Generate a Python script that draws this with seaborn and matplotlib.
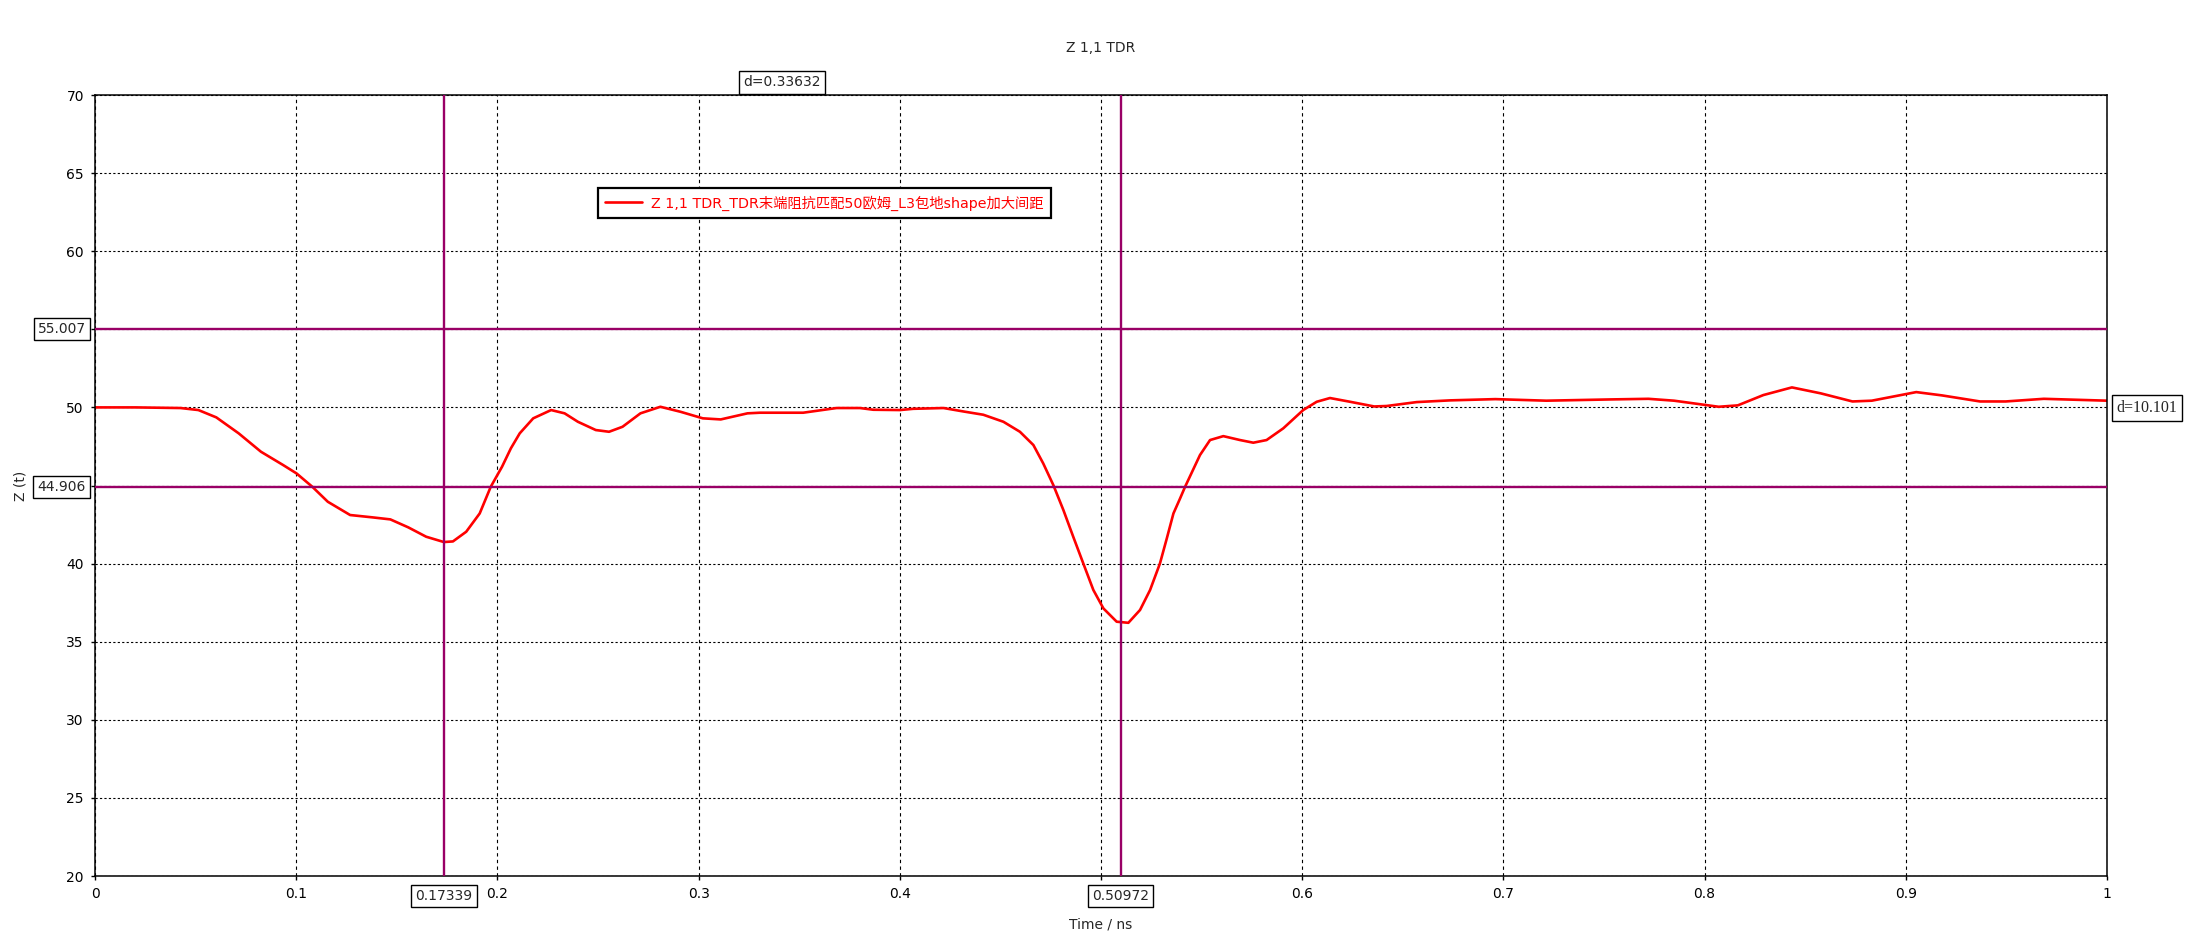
import matplotlib
matplotlib.use("Agg")
import matplotlib.pyplot as plt
import seaborn as sns
import pandas as pd

# ---------------- data ----------------
time_ns = [0.000, 0.020, 0.0425, 0.0514, 0.0603, 0.0714, 0.0825, 0.0935, 0.1002, 0.108,
           0.1157, 0.1268, 0.1379, 0.1468, 0.1557, 0.1646, 0.1734, 0.1779, 0.1845, 0.1912,
           0.1967, 0.2023, 0.2067, 0.2111, 0.2178, 0.2267, 0.2334, 0.240, 0.2489, 0.2555,
           0.2622, 0.2711, 0.281, 0.291, 0.3021, 0.311, 0.3243, 0.3305, 0.352, 0.3636,
           0.3686, 0.3802, 0.3868, 0.4001, 0.4067, 0.4217, 0.4316, 0.4415, 0.4515, 0.4597,
           0.4664, 0.4713, 0.4763, 0.4813, 0.4862, 0.4912, 0.4962, 0.5012, 0.5078, 0.5136,
           0.5194, 0.5244, 0.5293, 0.5327, 0.536, 0.5393, 0.5418, 0.5492, 0.5542, 0.5608,
           0.5691, 0.5757, 0.5823, 0.5906, 0.6005, 0.6072, 0.6138, 0.6238, 0.6358, 0.6420,
           0.6569, 0.6735, 0.6960, 0.7213, 0.7531, 0.7721, 0.7848, 0.8070, 0.8165, 0.8292,
           0.8434, 0.8577, 0.8735, 0.8831, 0.9052, 0.9179, 0.9369, 0.9496, 0.9686, 1.000]
z_ohm = [50.00, 50.00, 49.96, 49.83, 49.36, 48.34, 47.16, 46.31, 45.77, 44.92,
         43.96, 43.11, 42.96, 42.83, 42.32, 41.72, 41.38, 41.42, 42.04, 43.21,
         44.92, 46.20, 47.38, 48.34, 49.30, 49.83, 49.62, 49.08, 48.55, 48.44,
         48.76, 49.62, 50.04, 49.72, 49.30, 49.23, 49.62, 49.66, 49.66, 49.87,
         49.96, 49.96, 49.85, 49.83, 49.91, 49.96, 49.74, 49.53, 49.08, 48.44,
         47.59, 46.41, 45.03, 43.43, 41.72, 40.01, 38.31, 37.13, 36.28, 36.21,
         37.03, 38.31, 40.01, 41.61, 43.21, 44.17, 44.92, 46.95, 47.91, 48.16,
         47.91, 47.74, 47.91, 48.66, 49.83, 50.36, 50.60, 50.36, 50.06, 50.09,
         50.34, 50.45, 50.53, 50.43, 50.51, 50.55, 50.43, 50.04, 50.13, 50.79,
         51.28, 50.90, 50.38, 50.43, 50.98, 50.77, 50.38, 50.38, 50.55, 50.43]

series_label = "Z 1,1 TDR_TDR末端阻抗匹配50欧姆_L3包地shape加大间距"
x_markers = [0.17339, 0.50972]
y_markers = [55.007, 44.906]
x_delta_text = "d=0.33632"
y_delta_text = "d=10.101"
x_ticks = [0, 0.1, 0.2, 0.3, 0.4, 0.5, 0.6, 0.7, 0.8, 0.9, 1.0]
x_tick_labels = ["0", "0.1", "0.2", "0.3", "0.4", "", "0.6", "0.7", "0.8", "0.9", "1"]
y_ticks = [20, 25, 30, 35, 40, 45, 50, 55, 60, 65, 70]
y_tick_labels = ["20", "25", "30", "35", "40", "", "50", "", "60", "65", "70"]

# ---------------- style ----------------
sns.set_style("ticks")
plt.rcParams["font.family"] = ["DejaVu Sans", "Noto Sans CJK SC"]
plt.rcParams["font.size"] = 10

MARK = "#990066"
fig = plt.figure(figsize=(21.88, 9.46), dpi=100)
ax = fig.add_axes([95 / 2188, 1 - 876 / 946, (2107 - 95) / 2188, (876 - 95) / 946])

df = pd.DataFrame({"t": time_ns, "z": z_ohm})
sns.lineplot(data=df, x="t", y="z", color="red", linewidth=1.9, sort=False,
             ax=ax, label=series_label, zorder=2.5)

for xm in x_markers:
    ax.axvline(xm, color=MARK, lw=1.7, zorder=3)
for ym in y_markers:
    ax.axhline(ym, color=MARK, lw=1.7, zorder=3)

ax.set_xlim(0, 1)
ax.set_ylim(20, 70)
ax.set_xticks(x_ticks)
ax.set_xticklabels(x_tick_labels)
ax.set_yticks(y_ticks)
ax.set_yticklabels(y_tick_labels)
ax.tick_params(axis="both", direction="out", length=3, width=1, color="black",
               labelsize=10, labelcolor="black")
ax.tick_params(axis="x", pad=5)
ax.tick_params(axis="y", pad=5)

ax.xaxis.grid(True, color="black", linestyle=(0, (3, 3)), linewidth=0.8)
ax.yaxis.grid(True, color="black", linestyle=(0, (2, 2)), linewidth=0.8)
ax.set_axisbelow(True)

for s in ax.spines.values():
    s.set_visible(True)
    s.set_color("black")
    s.set_linewidth(1.1)

ax.set_xlabel("Time / ns", fontsize=10, labelpad=12)
ax.set_ylabel("Z (t)", fontsize=10, labelpad=28)
fig.text(1101 / 2188, 1 - 48 / 946, "Z 1,1 TDR", ha="center", va="center", fontsize=10)

box = dict(boxstyle="square,pad=0.3", fc="white", ec="black", lw=1.0)
for xm in x_markers:
    ax.annotate(f"{xm:.5f}", xy=(xm, 0), xycoords=ax.get_xaxis_transform(),
                xytext=(0, -14.4), textcoords="offset points",
                ha="center", va="center", fontsize=10, bbox=box, annotation_clip=False)
for ym in y_markers:
    ax.annotate(f"{ym:.3f}", xy=(0, ym), xycoords=ax.get_yaxis_transform(),
                xytext=(-6.6, 0), textcoords="offset points",
                ha="right", va="center", fontsize=10, bbox=box, annotation_clip=False)

ax.annotate(x_delta_text, xy=((x_markers[0] + x_markers[1]) / 2, 1),
            xycoords=ax.get_xaxis_transform(), xytext=(0, 9), textcoords="offset points",
            ha="center", va="center", fontsize=10, bbox=box, annotation_clip=False)
ax.annotate(y_delta_text, xy=(1, (y_markers[0] + y_markers[1]) / 2),
            xycoords=ax.get_yaxis_transform(), xytext=(7, 0), textcoords="offset points",
            ha="left", va="center", fontsize=11.5, family="Liberation Serif",
            bbox=dict(boxstyle="square,pad=0.3", fc="white", ec="black", lw=1.0),
            annotation_clip=False)

leg = ax.legend(loc="upper left", bbox_to_anchor=(0.25, 0.881), borderaxespad=0,
                frameon=True, fancybox=False, shadow=False, fontsize=10.3,
                handlelength=2.6, handletextpad=0.6, borderpad=0.5, labelcolor="red")
leg.get_frame().set_edgecolor("black")
leg.get_frame().set_linewidth(1.6)
leg.get_frame().set_alpha(1)
leg.set_zorder(10)

fig.savefig("out.png", dpi=100, facecolor="white")
